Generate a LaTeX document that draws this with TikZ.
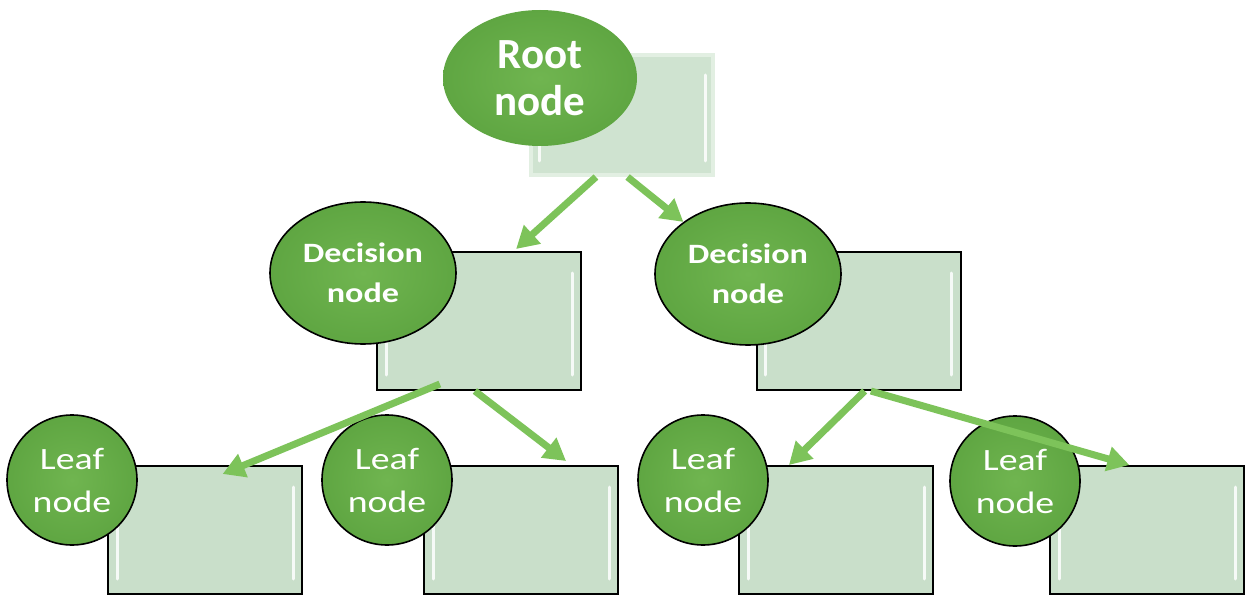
\documentclass[tikz,border=0pt]{standalone}
\usepackage{fontspec}
\setmainfont{Carlito}
\newfontfamily\widefont[FakeStretch=1.22]{Carlito}
\usetikzlibrary{shapes.geometric,arrows.meta,calc}
\definecolor{nodegreen}{HTML}{5FA642}
\definecolor{nodegreenlight}{HTML}{70B550}
\definecolor{boxfill}{HTML}{C9DFCA}
\definecolor{rootboxfill}{HTML}{CFE3D0}
\definecolor{rootboxedge}{HTML}{E2EFE2}
\definecolor{arrowgreen}{HTML}{7DC35A}
\tikzset{
  box/.style={rectangle, draw=black, line width=2pt, fill=boxfill, inner sep=0pt},
  leafbox/.style={box, minimum width=194pt, minimum height=128pt},
  decbox/.style={box, minimum width=204pt, minimum height=138pt},
  rootbox/.style={rectangle, draw=rootboxedge, line width=4pt, fill=rootboxfill, inner sep=0pt,
    minimum width=182pt, minimum height=120pt},
  blob/.style={ellipse, inner sep=0pt, shade, inner color=nodegreenlight, outer color=nodegreen,
    text=white, align=center},
  rootblob/.style={blob, minimum width=194pt, minimum height=136pt,
    font=\fontsize{43}{47}\selectfont\bfseries},
  decblob/.style={blob, draw=black, line width=1.6pt, minimum width=186pt, minimum height=142pt,
    font=\widefont\fontsize{28}{40}\selectfont\bfseries},
  leafblob/.style={blob, draw=black, line width=1.6pt, minimum width=130pt, minimum height=130pt,
    font=\widefont\fontsize{31}{43}\selectfont},
  bevel/.style={white, line width=3pt, opacity=0.85, line cap=round},
  arr/.style={draw=arrowgreen, line width=7pt, -{Triangle[length=22pt,width=24pt]}}
}
\begin{document}
\begin{tikzpicture}[x=1pt,y=-1pt]
\useasboundingbox (0,0) rectangle (1245,596);
% boxes
\node[rootbox] (rootbox) at (622,115) {};
\node[decbox] (decLbox) at (479,321) {};
\node[decbox] (decRbox) at (858.5,321) {};
\node[leafbox] (leafAbox) at (205,530) {};
\node[leafbox] (leafBbox) at (521,530) {};
\node[leafbox] (leafCbox) at (836,530) {};
\node[leafbox] (leafDbox) at (1147,530) {};
% bevel highlights
\foreach \b in {rootbox,decLbox,decRbox,leafAbox,leafBbox,leafCbox,leafDbox}{
  \draw[bevel] ($(\b.north west)+(10,22)$) -- ($(\b.south west)+(10,-16)$);
  \draw[bevel] ($(\b.north east)+(-10,22)$) -- ($(\b.south east)+(-10,-16)$);
}
% ellipses
\node[rootblob] (root) at (540,78) {Root\\node};
\node[decblob] (decL) at (363,273) {Decision\\node};
\node[decblob] (decR) at (748,274) {Decision\\node};
\node[leafblob] (leafA) at (72,480) {Leaf\\node};
\node[leafblob] (leafB) at (387,480) {Leaf\\node};
\node[leafblob] (leafC) at (703,480) {Leaf\\node};
\node[leafblob] (leafD) at (1015,481) {Leaf\\node};
% arrows
\draw[arr] ($(rootbox.south west)!0.36!(rootbox.south east)$) -- ($(decLbox.north west)!0.68!(decLbox.north east)+(0,-2)$);
\draw[arr] ($(rootbox.south west)!0.53!(rootbox.south east)$) -- (decR);
\draw[arr] ($(decLbox.south west)!0.31!(decLbox.south east)+(0,-7)$) -- ($(leafAbox.north west)!0.59!(leafAbox.north east)+(0,9)$);
\draw[arr] ($(decLbox.south west)!0.48!(decLbox.south east)$) -- ($(leafBbox.north west)!0.73!(leafBbox.north east)+(0,-4)$);
\draw[arr] ($(decRbox.south west)!0.53!(decRbox.south east)$) -- ($(leafCbox.north west)!0.26!(leafCbox.north east)$);
\draw[arr] ($(decRbox.south west)!0.56!(decRbox.south east)$) -- ($(leafDbox.north west)!0.41!(leafDbox.north east)$);
\end{tikzpicture}
\end{document}
